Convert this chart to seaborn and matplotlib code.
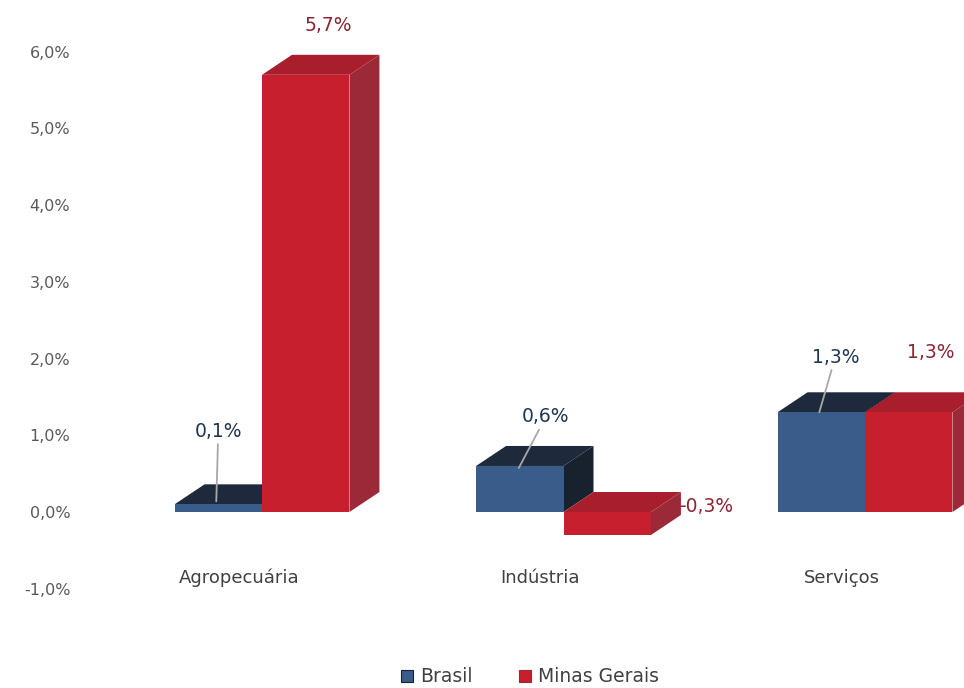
import matplotlib
matplotlib.use("Agg")
import matplotlib.pyplot as plt
import pandas as pd
import seaborn as sns
from matplotlib.patches import Polygon, Patch
from matplotlib.transforms import ScaledTranslation

# Growth by sector (%)
setores = ["Agropecuária", "Indústria", "Serviços"]
regioes = ["Brasil", "Minas Gerais"]
brasil = [0.1, 0.6, 1.3]
minas = [5.7, -0.3, 1.3]
yticks = [-1.0, 0.0, 1.0, 2.0, 3.0, 4.0, 5.0, 6.0]

df = pd.DataFrame({
    "setor": setores * 2,
    "regiao": [regioes[0]] * len(setores) + [regioes[1]] * len(setores),
    "valor": brasil + minas,
})

front = {"Brasil": "#3A5C8A", "Minas Gerais": "#C81F2E"}
top = {"Brasil": "#1E2A3B", "Minas Gerais": "#A81E2D"}
side = {"Brasil": "#18212E", "Minas Gerais": "#9C2937"}
text_col = {"Brasil": "#1F3552", "Minas Gerais": "#8E2434"}


def fmt(v):
    return f"{v:.1f}".replace(".", ",") + "%"


sns.set_theme(style="white")
plt.rcParams["font.family"] = ["DejaVu Sans"]

W, H = 964, 688
fig = plt.figure(figsize=(W / 100, H / 100), dpi=100)
ax_l, ax_r, ax_t, ax_b = 80, 964, 10, 620
ax = fig.add_axes([ax_l / W, 1 - ax_b / H, (ax_r - ax_l) / W, (ax_b - ax_t) / H])

sns.barplot(data=df, x="setor", y="valor", hue="regiao", order=setores,
            hue_order=regioes, palette=front, width=0.58, saturation=1,
            linewidth=0, legend=False, ax=ax)

# layout scale: pixels per data unit
x0_px, sx = 262.0, 301.5
y0_px, sy = 512.0, 76.7
ax.set_xlim((ax_l - x0_px) / sx, (ax_r - x0_px) / sx)
ax.set_ylim((y0_px - ax_b) / sy, (y0_px - ax_t) / sy)

# 3D depth of the boxes
ddx, ddy = 30 / sx, 20 / sy

for reg, cont in zip(regioes, ax.containers):
    for bar in cont:
        x0, w = bar.get_x(), bar.get_width()
        ya, yb = bar.get_y(), bar.get_y() + bar.get_height()
        lo, hi = min(ya, yb), max(ya, yb)
        ax.add_patch(Polygon([(x0, hi), (x0 + w, hi), (x0 + w + ddx, hi + ddy),
                              (x0 + ddx, hi + ddy)], closed=True,
                             facecolor=top[reg], edgecolor="none", zorder=0.9))
        ax.add_patch(Polygon([(x0 + w, lo), (x0 + w + ddx, lo + ddy),
                              (x0 + w + ddx, hi + ddy), (x0 + w, hi)], closed=True,
                             facecolor=side[reg], edgecolor="none", zorder=0.9))

# value labels: (text offset px, leader end offset px or None)
placement = {
    ("Brasil", 0): ((0, 73), (-2, 3)),
    ("Brasil", 1): ((26, 49), (-1, -2)),
    ("Brasil", 2): ((14, 55), (-2, 0)),
    ("Minas Gerais", 0): ((23, 49), None),
    ("Minas Gerais", 1): ((99, 6), None),
    ("Minas Gerais", 2): ((22, 60), None),
}

for reg, cont, vals in zip(regioes, ax.containers, [brasil, minas]):
    for i, (bar, v) in enumerate(zip(cont, vals)):
        cx = bar.get_x() + bar.get_width() / 2
        hi = max(v, 0)
        toff, lend = placement[(reg, i)]
        if lend is None:
            ax.annotate(fmt(v), xy=(cx, hi), xytext=toff, textcoords="offset pixels",
                        ha="center", va="center", fontsize=13.5, color=text_col[reg],
                        annotation_clip=False)
        else:
            xy = (cx + lend[0] / sx, hi + lend[1] / sy)
            ax.annotate(fmt(v), xy=xy,
                        xytext=(toff[0] - lend[0], toff[1] - lend[1]),
                        textcoords="offset pixels", ha="center", va="center",
                        fontsize=13.5, color=text_col[reg], annotation_clip=False,
                        arrowprops=dict(arrowstyle="-", color="#A8A8A8", lw=1.3,
                                        shrinkA=0, shrinkB=0))

# axes styling
for s in ax.spines.values():
    s.set_visible(False)
ax.set_xlabel("")
ax.set_ylabel("")
ax.set_yticks(yticks)
ax.set_yticklabels([fmt(t) for t in yticks])
ax.tick_params(axis="y", length=0, pad=7, labelsize=11.5, labelcolor="#595959")
ax.tick_params(axis="x", length=0, pad=-37, labelsize=13, labelcolor="#404040")
shift = ScaledTranslation(-0.23, 0, fig.dpi_scale_trans)
for lbl in ax.get_xticklabels():
    lbl.set_transform(lbl.get_transform() + shift)

handles = [Patch(facecolor=front[r], edgecolor=side[r], linewidth=0.8) for r in regioes]
fig.legend(handles, regioes, loc="center", bbox_to_anchor=(0.55, 0.016),
           ncol=2, frameon=False, fontsize=13.5, labelcolor="#404040",
           handlelength=0.6, handleheight=0.6, handletextpad=0.4, columnspacing=2.5)

fig.savefig("out.png", dpi=100, facecolor="white")
